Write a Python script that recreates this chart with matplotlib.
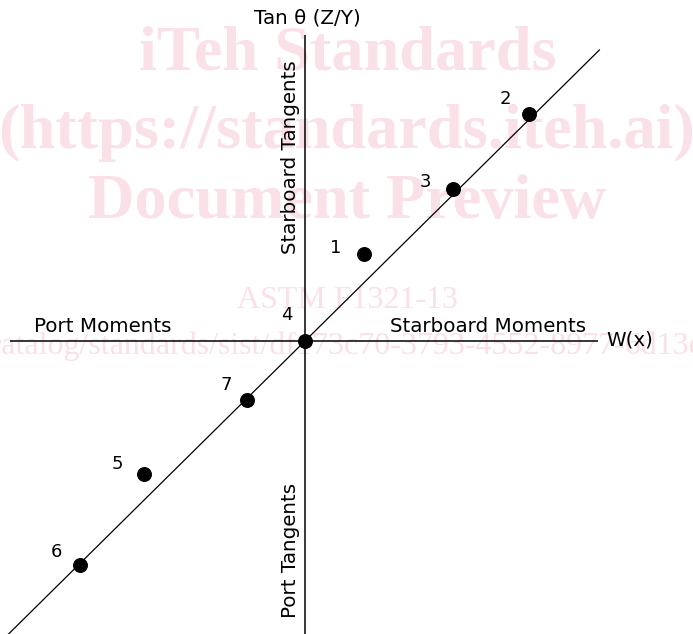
import numpy as np
import matplotlib
matplotlib.use('Agg')
import matplotlib.pyplot as plt

# point data (W(x) moments, tan theta)
labels = ['1', '2', '3', '4', '5', '6', '7']
w_x = [1.57, 5.97, 3.95, 0.0, -4.29, -6.00, -1.55]
tan_t = [2.32, 6.05, 4.05, 0.0, -3.55, -5.97, -1.57]
# label offsets in points
lbl_off = [(-20, 4), (-17, 11), (-20, 5), (-13, 19), (-19, 7), (-17, 9), (-15, 11)]

W, H = 693, 634
px = 37.5  # pixels per unit
x0, y0 = 305, 341

fig = plt.figure(figsize=(W / 100, H / 100), dpi=100)
ax = fig.add_axes([0, 0, 1, 1])
ax.set_zorder(2)
ax.patch.set_visible(False)
ax.set_xlim(-x0 / px, (W - x0) / px)
ax.set_ylim(-(H - y0) / px, y0 / px)
ax.axis('off')

# watermark
pink = '#fae0e7'
wm = dict(color=pink, family='Liberation Serif', ha='center', va='center', zorder=0)
fig.text(348 / W, 1 - 54 / H, 'iTeh Standards', fontsize=46.3, weight='bold', **wm)
fig.text(347 / W, 1 - 133 / H, '(https://standards.iteh.ai)', fontsize=46.3, weight='bold', **wm)
fig.text(347 / W, 1 - 203 / H, 'Document Preview', fontsize=46.3, weight='bold', **wm)
fig.text(347 / W, 1 - 301 / H, 'ASTM F1321-13', fontsize=23, **wm)
fig.text(-12 / W, 1 - 346 / H, 'catalog/standards/sist/df173c70-3793-4552-8977-6d13e7a8b9f2/astm-f1321-13',
         fontsize=23, color=pink, family='Liberation Serif', ha='left', va='center', zorder=0)

# axes cross
ax.hlines(0, -7.87, 7.81, color='black', lw=1.1, zorder=2)
ax.vlines(0, ax.get_ylim()[0], 8.16, color='black', lw=1.1, zorder=2)

# fitted line through origin
xs = np.array(w_x)
ys = np.array(tan_t)
slope = np.sum(xs * ys) / np.sum(xs * xs)
xl = np.array([-9.0, 7.85])
ax.plot(xl, slope * xl, color='black', lw=0.9, zorder=2)

ax.scatter(w_x, tan_t, s=95, color='black', zorder=3)
for lab, x, y, off in zip(labels, w_x, tan_t, lbl_off):
    ax.annotate(lab, (x, y), xytext=off, textcoords='offset points',
                ha='center', va='center', fontsize=13, family='DejaVu Sans')

fs = 14.3
fig.text(307 / W, 1 - 18 / H, 'Tan θ (Z/Y)', fontsize=fs, ha='center', va='center')
fig.text(103 / W, 1 - 327 / H, 'Port Moments', fontsize=fs, ha='center', va='center')
fig.text(488 / W, 1 - 327 / H, 'Starboard Moments', fontsize=fs, ha='center', va='center')
fig.text(630 / W, 1 - 340 / H, 'W(x)', fontsize=fs, ha='center', va='center')
fig.text(291 / W, 1 - 157 / H, 'Starboard Tangents', fontsize=fs, rotation=90,
         ha='center', va='center')
fig.text(291 / W, 1 - 550 / H, 'Port Tangents', fontsize=fs, rotation=90,
         ha='center', va='center')

fig.savefig('out.png', dpi=100)
